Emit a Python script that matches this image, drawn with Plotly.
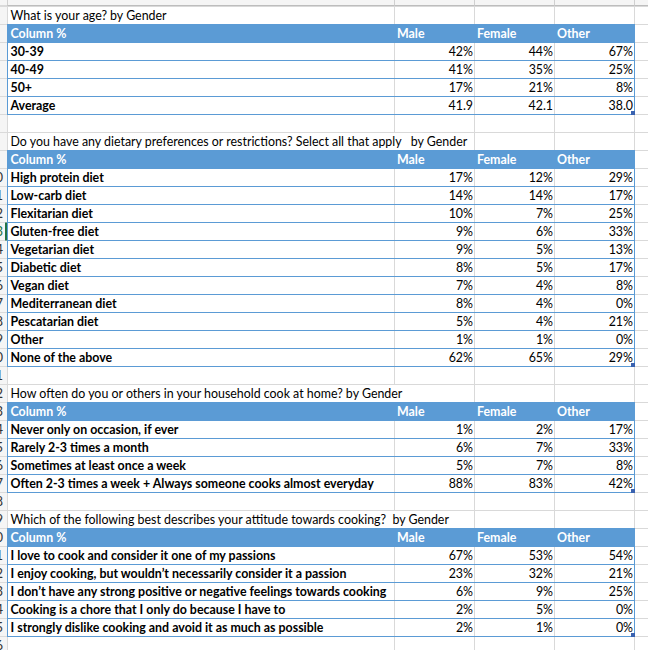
import plotly.graph_objects as go

# ---------------- data ----------------
genders = ["Male", "Female", "Other"]
header_label = "Column %"

age_title = "What is your age? by Gender"
age_categories = ["30-39", "40-49", "50+"]
age_male = [42, 41, 17]
age_female = [44, 35, 21]
age_other = [67, 25, 8]
age_avg_label = "Average"
age_avg = [41.9, 42.1, 38.0]

diet_title = "Do you have any dietary preferences or restrictions? Select all that apply\u00a0\u00a0\u00a0by Gender"
diet_categories = ["High protein diet", "Low-carb diet", "Flexitarian diet", "Gluten-free diet",
                   "Vegetarian diet", "Diabetic diet", "Vegan diet", "Mediterranean diet",
                   "Pescatarian diet", "Other", "None of the above"]
diet_male = [17, 14, 10, 9, 9, 8, 7, 8, 5, 1, 62]
diet_female = [12, 14, 7, 6, 5, 5, 4, 4, 4, 1, 65]
diet_other = [29, 17, 25, 33, 13, 17, 8, 0, 21, 0, 29]

cook_title = "How often do you or others in your household cook at home? by Gender"
cook_categories = ["Never only on occasion, if ever", "Rarely 2-3 times a month",
                   "Sometimes at least once a week",
                   "Often 2-3 times a week + Always someone cooks almost everyday"]
cook_male = [1, 6, 5, 88]
cook_female = [2, 7, 7, 83]
cook_other = [17, 33, 8, 42]

att_title = "Which of the following best describes your attitude towards cooking?\u00a0\u00a0by Gender"
att_categories = ["I love to cook and consider it one of my passions",
                  "I enjoy cooking, but wouldn\u2019t necessarily consider it a passion",
                  "I don\u2019t have any strong positive or negative feelings towards cooking",
                  "Cooking is a chore that I only do because I have to",
                  "I strongly dislike cooking and avoid it as much as possible"]
att_male = [67, 23, 6, 2, 2]
att_female = [53, 32, 9, 5, 1]
att_other = [54, 21, 25, 0, 0]

column_letters = ["A", "B", "C", "D"]

# ---------------- build table rows ----------------
def pct(v):
    return f"{v}%"

tables = [
    dict(title=age_title,
         labels=age_categories + [age_avg_label],
         cols=[[pct(v) for v in age_male] + [f"{age_avg[0]:.1f}"],
               [pct(v) for v in age_female] + [f"{age_avg[1]:.1f}"],
               [pct(v) for v in age_other] + [f"{age_avg[2]:.1f}"]],
         overflow=False),
    dict(title=diet_title, labels=diet_categories,
         cols=[[pct(v) for v in diet_male], [pct(v) for v in diet_female], [pct(v) for v in diet_other]],
         overflow=True),
    dict(title=cook_title, labels=cook_categories,
         cols=[[pct(v) for v in cook_male], [pct(v) for v in cook_female], [pct(v) for v in cook_other]],
         overflow=True),
    dict(title=att_title, labels=att_categories,
         cols=[[pct(v) for v in att_male], [pct(v) for v in att_female], [pct(v) for v in att_other]],
         overflow=True),
]

# ---------------- geometry / style ----------------
W, H = 648, 650
ROW_H = 18
ROW0 = 6.5            # top line of spreadsheet row 1
COLX = [7.5, 394.5, 474.5, 554.5, 634.5]
GRID = "#D9D9D9"
BLUE = "#5B9BD5"
HDR_BG = "#F5F5F5"
FONT = "Lato"
FS = 12.4
TXT = "#000000"
TEXT_DY = 1.5

def top(r):
    return ROW0 + ROW_H * (r - 1)

def mid(r):
    return top(r) + ROW_H / 2 + TEXT_DY

shapes = []

r = 1
title_rows = {}
for t in tables:
    t["row_title"] = r
    t["row_header"] = r + 1
    t["row_first"] = r + 2
    t["row_last"] = r + 1 + len(t["labels"])
    title_rows[r] = t["overflow"]
    r = t["row_last"] + 2
N_ROWS = 37

def line(x0, x1, y0, y1, color, width=1):
    shapes.append(dict(type="line", x0=x0, x1=x1, y0=y0, y1=y1,
                       line=dict(color=color, width=width), layer="below"))

def rect(x0, x1, y0, y1, color):
    shapes.append(dict(type="rect", x0=x0, x1=x1, y0=y0, y1=y1,
                       fillcolor=color, line=dict(width=0), layer="below"))

# gray horizontal gridlines
for rr in range(1, N_ROWS + 1):
    line(0, W, top(rr), top(rr), GRID)
# gray vertical gridlines (per row, hidden under overflowing titles)
for rr in range(1, N_ROWS):
    for i, x in enumerate(COLX):
        if title_rows.get(rr) and i == 1:
            continue
        line(x, x, top(rr), top(rr + 1), GRID)

# tables: header fill + blue borders
for t in tables:
    hy = top(t["row_header"])
    rect(7, 635, hy - 0.5, hy + ROW_H + 0.5, BLUE)
    for rr in range(t["row_first"], t["row_last"] + 1):
        y = top(rr + 1)
        line(7, 635, y, y, BLUE)
    yb = top(t["row_last"] + 1)
    line(634.5, 634.5, hy - 0.5, yb + 0.5, BLUE)
    line(7.5, 7.5, hy - 0.5, yb + 0.5, BLUE)
    rect(631, 635, yb - 3.5, yb + 0.5, "#3A62B0")   # resize handle

# column header strip (top) and row header strip (left)
rect(0, W, 0, 5.5, HDR_BG)
line(0, W, 5.5, 5.5, "#BDBDBD")
for x in COLX:
    line(x, x, 0, 5.5, "#D0D0D0")
rect(0, 7, 5.5, H, HDR_BG)
for rr in range(1, N_ROWS + 1):
    line(0, 7, top(rr), top(rr), "#DADADA")
# active row marker (row 13)
line(6, 6, top(13), top(14), "#217346", 2)

fig = go.Figure()

def add_text(xs, ys, texts, pos, color=TXT, bold=False, size=FS):
    fig.add_trace(go.Scatter(
        x=xs, y=ys, text=texts, mode="text", textposition=pos,
        textfont=dict(family=FONT, size=size, color=color, weight="bold" if bold else "normal"),
        hoverinfo="skip", showlegend=False, cliponaxis=True))

LX = 10.5
for t in tables:
    add_text([LX], [mid(t["row_title"])], [t["title"]], "middle right")
    add_text([LX] + [COLX[i + 1] + 2.5 for i in range(3)], [mid(t["row_header"])] * 4,
             [header_label] + genders, "middle right", color="#FFFFFF", bold=True)
    rows = list(range(t["row_first"], t["row_last"] + 1))
    add_text([LX] * len(rows), [mid(rr) for rr in rows], t["labels"], "middle right", bold=True)
    for i in range(3):
        add_text([COLX[i + 2] - 1.5] * len(rows), [mid(rr) for rr in rows], t["cols"][i], "middle left")

# column letters (mostly hidden above the view)
add_text([(COLX[i] + COLX[i + 1]) / 2 for i in range(4)], [-3] * 4, column_letters, "middle center",
         color="#444444", size=13)
# row numbers (mostly hidden left of the view)
rown = list(range(1, N_ROWS))
num_colors = ["#217346" if n == 13 else "#333333" for n in rown]
add_text([-4.5] * len(rown), [mid(rr) for rr in rown], [str(n) for n in rown], "middle center",
         color=num_colors, size=13)

fig.update_layout(
    width=W, height=H, margin=dict(l=0, r=0, t=0, b=0),
    paper_bgcolor="white", plot_bgcolor="white",
    xaxis=dict(range=[0, W], visible=False, fixedrange=True),
    yaxis=dict(range=[H, 0], visible=False, fixedrange=True),
    shapes=shapes,
)
fig.write_html("out.html", config={"displayModeBar": False},
               post_script="document.body.style.margin='0';document.body.style.padding='0';")
